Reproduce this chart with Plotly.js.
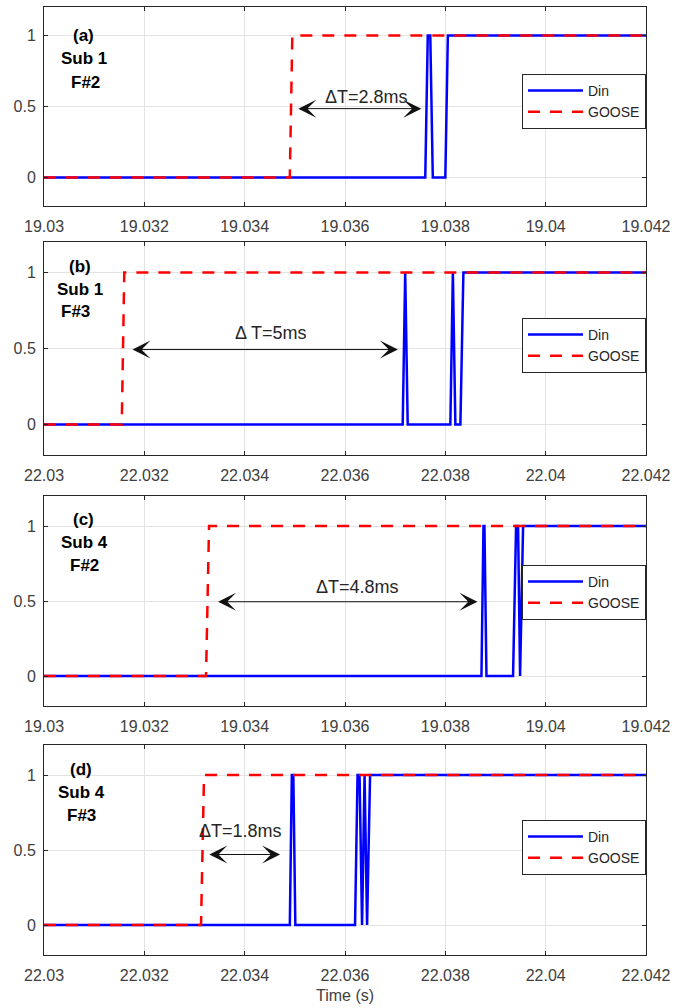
<!DOCTYPE html>
<html><head><meta charset="utf-8">
<script src="https://cdn.plot.ly/plotly-3.0.1.min.js"></script>
<style>html,body{margin:0;padding:0;background:#fff;}#chart{width:689px;height:1008px;}</style>
</head><body><div id="chart"></div>
<script>
// ---- Data ----
// (a) Sub 1 F#2
var timeDinA   = [19.03, 19.0376, 19.03765, 19.0377, 19.03775, 19.038, 19.03805, 19.042];
var dinA       = [0, 0, 1, 1, 0, 0, 1, 1];
var timeGooseA = [19.03, 19.0349, 19.03495, 19.042];
var gooseA     = [0, 0, 1, 1];
// (b) Sub 1 F#3
var timeDinB   = [22.03, 22.03715, 22.0372, 22.03725, 22.0381, 22.03815, 22.0382, 22.0383, 22.03836, 22.042];
var dinB       = [0, 0, 1, 0, 0, 1, 0, 0, 1, 1];
var timeGooseB = [22.03, 22.03155, 22.0316, 22.042];
var gooseB     = [0, 0, 1, 1];
// (c) Sub 4 F#2
var timeDinC   = [19.03, 19.03872, 19.03876, 19.03878, 19.03882, 19.03935, 19.03941, 19.03945, 19.03949, 19.03955, 19.042];
var dinC       = [0, 0, 1, 1, 0, 0, 1, 1, 0, 1, 1];
var timeGooseC = [19.03, 19.03323, 19.03329, 19.042];
var gooseC     = [0, 0, 1, 1];
// (d) Sub 4 F#3
var timeDinD   = [22.03, 22.0349, 22.03494, 22.03497, 22.03501, 22.0362, 22.03625, 22.03629, 22.03634, 22.03639, 22.03644, 22.0365, 22.042];
var dinD       = [0, 0, 1, 1, 0, 0, 1, 1, 0, 1, 0, 1, 1];
var timeGooseD = [22.03, 22.03313, 22.03319, 22.042];
var gooseD     = [0, 0, 1, 1];

var ticks19 = ['19.03', '19.032', '19.034', '19.036', '19.038', '19.04', '19.042'];
var ticks22 = ['22.03', '22.032', '22.034', '22.036', '22.038', '22.04', '22.042'];
var yTickVals = [0, 0.5, 1];
var yTickText = ['0', '0.5', '1'];
var seriesNames = ['Din', 'GOOSE'];
var deltaLabels = ['ΔT=2.8ms', 'Δ T=5ms', 'ΔT=4.8ms', 'ΔT=1.8ms'];
var panelLabels = [['(a)', 'Sub 1', 'F#2'], ['(b)', 'Sub 1', 'F#3'], ['(c)', 'Sub 4', 'F#2'], ['(d)', 'Sub 4', 'F#3']];
// arrow ends (x data) of the delta-T markers
var arrowStart = [19.03504, 22.031734, 19.03344, 22.033266];
var arrowEnd   = [19.03752, 22.037054, 19.03864, 22.034706];

// ---- Layout placement (pixels / label positions) ----
var H = 1008;
var panels = [
  {td: timeDinA, d: dinA, tg: timeGooseA, g: gooseA, ticks: ticks19, top: 7, bot: 206, legTop: 74,
   arrowY: 0.485, text: [19.03642, 0.566], lab: [[19.03078, 1.0], [19.0308, 0.835], [19.03082, 0.672]]},
  {td: timeDinB, d: dinB, tg: timeGooseB, g: gooseB, ticks: ticks22, top: 242, bot: 455, legTop: 318,
   arrowY: 0.493, text: [22.03452, 0.599], lab: [[22.03072, 1.037], [22.03072, 0.89], [22.030634, 0.743]]},
  {td: timeDinC, d: dinC, tg: timeGooseC, g: gooseC, ticks: ticks19, top: 496, bot: 706, legTop: 565,
   arrowY: 0.495, text: [19.036254, 0.592], lab: [[19.03078, 1.041], [19.0308, 0.89], [19.0308, 0.74]]},
  {td: timeDinD, d: dinD, tg: timeGooseD, g: gooseD, ticks: ticks22, top: 745, bot: 955, legTop: 820,
   arrowY: 0.47, text: [22.03392, 0.624], lab: [[22.03073, 1.034], [22.03074, 0.883], [22.03074, 0.728]]}
];

var FONT = 'Liberation Sans, Arial, Helvetica, sans-serif';
var DARK = '#262626';
var TICK = '#404040';
var traces = [];
var annotations = [];
var layout = {
  width: 689, height: 1008,
  margin: {l: 44, r: 43, t: 0, b: 0},
  paper_bgcolor: '#ffffff', plot_bgcolor: '#ffffff',
  font: {family: FONT, size: 15, color: DARK},
  showlegend: true
};

panels.forEach(function (p, i) {
  var n = i + 1;
  var xa = 'x' + (n === 1 ? '' : n), ya = 'y' + (n === 1 ? '' : n);
  var leg = 'legend' + (n === 1 ? '' : n);
  traces.push({x: p.td, y: p.d, type: 'scatter', mode: 'lines', name: seriesNames[0],
    xaxis: xa, yaxis: ya, legend: leg,
    line: {color: '#0000ff', width: 2.5}});
  traces.push({x: p.tg, y: p.g, type: 'scatter', mode: 'lines', name: seriesNames[1],
    xaxis: xa, yaxis: ya, legend: leg,
    line: {color: '#ff0000', width: 2.5, dash: '12px,10px'}});

  var tickVals = p.ticks.map(Number);
  var xKey = 'xaxis' + (n === 1 ? '' : n), yKey = 'yaxis' + (n === 1 ? '' : n);
  layout[xKey] = {
    domain: [0, 1], anchor: ya, range: [tickVals[0], tickVals[tickVals.length - 1]],
    tickvals: tickVals, ticktext: p.ticks, ticks: 'inside', ticklen: 4, tickcolor: DARK,
    showline: true, linecolor: DARK, linewidth: 1, mirror: 'ticks',
    showgrid: true, gridcolor: '#e3e3e3', gridwidth: 1, zeroline: false,
    tickfont: {family: FONT, size: 16, color: TICK}, ticklabelstandoff: 6, fixedrange: true
  };
  if (n === 4) {
    layout[xKey].title = {text: 'Time (s)', font: {family: FONT, size: 16, color: TICK}, standoff: 6};
  }
  layout[yKey] = {
    domain: [1 - p.bot / H, 1 - p.top / H], anchor: xa, range: [-0.2, 1.2],
    tickvals: yTickVals, ticktext: yTickText, ticks: 'inside', ticklen: 4, tickcolor: DARK,
    showline: true, linecolor: DARK, linewidth: 1, mirror: 'ticks',
    showgrid: true, gridcolor: '#e3e3e3', gridwidth: 1, zeroline: false,
    tickfont: {family: FONT, size: 16, color: TICK}, ticklabelstandoff: 4, fixedrange: true
  };
  layout[leg] = {
    x: 1, xanchor: 'right', xref: 'paper', y: 1 - p.legTop / H, yanchor: 'top', yref: 'paper',
    bgcolor: '#ffffff', bordercolor: DARK, borderwidth: 1,
    font: {family: FONT, size: 14, color: DARK}, itemwidth: 55, tracegroupgap: 0
  };

  // double arrow
  annotations.push({xref: xa, yref: ya, axref: xa, ayref: ya,
    x: arrowEnd[i], y: p.arrowY, ax: arrowStart[i], ay: p.arrowY, text: '',
    showarrow: true, arrowside: 'end+start', arrowhead: 3, startarrowhead: 3,
    arrowsize: 3, startarrowsize: 3, arrowwidth: 1, arrowcolor: '#111111', standoff: 0, startstandoff: 0});
  annotations.push({xref: xa, yref: ya, x: p.text[0], y: p.text[1], text: deltaLabels[i],
    showarrow: false, font: {family: FONT, size: 18, color: DARK}});
  panelLabels[i].forEach(function (t, k) {
    annotations.push({xref: xa, yref: ya, x: p.lab[k][0], y: p.lab[k][1], text: '<b>' + t + '</b>',
      showarrow: false, font: {family: FONT, size: 17, color: '#000000'}});
  });
});
layout.annotations = annotations;

Plotly.newPlot('chart', traces, layout, {staticPlot: true, displayModeBar: false});
</script>
</body></html>
